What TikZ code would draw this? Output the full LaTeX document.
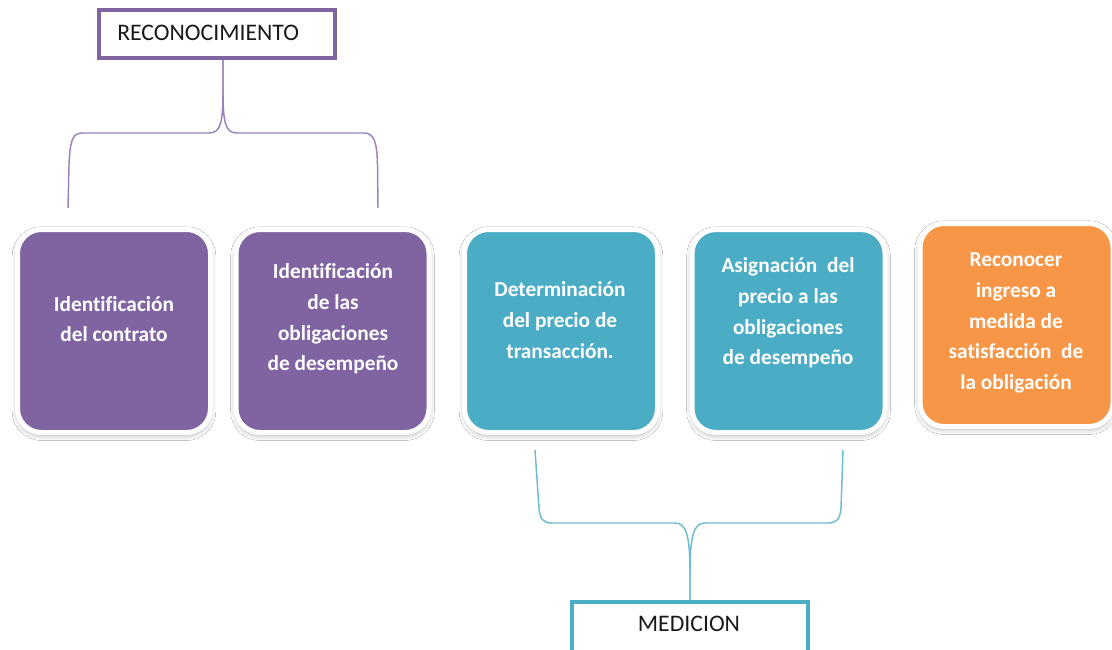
\documentclass[tikz,border=0pt]{standalone}
\usepackage{fontspec}
\setmainfont[Ligatures=NoCommon]{Carlito}
\usetikzlibrary{shadows.blur}
\definecolor{cpurple}{HTML}{8064A2}
\definecolor{cteal}{HTML}{4BACC6}
\definecolor{corange}{HTML}{F79646}
\definecolor{cpline}{HTML}{9A82BC}
\definecolor{ctline}{HTML}{6CBCD2}
\tikzset{
  card/.style={draw=white, line width=3.75pt, rounded corners=18pt,
    minimum width=144.75pt, minimum height=152.25pt, inner sep=0pt,
    blur shadow={shadow xshift=0pt, shadow yshift=-2pt, shadow blur radius=4pt, shadow opacity=35}},
  cardtext/.style={text=white, align=center, font=\fontsize{16pt}{23pt}\selectfont\bfseries},
  headbox/.style={line width=3pt, inner sep=0pt, minimum width=177pt, minimum height=36pt, fill=white},
  headtext/.style={text=black!90, font=\fontsize{17.8pt}{20pt}\selectfont, inner sep=0pt},
  pbrace/.style={draw=cpline, line width=1.1pt},
  tbrace/.style={draw=ctline, line width=1.1pt}
}
\begin{document}
\begin{tikzpicture}[x=0.75pt, y=-0.75pt]
\useasboundingbox[fill=white] (0,0) rectangle (1112,649);
% cards
\node[card, fill=cpurple] (c1) at (114,331) {};
\node[card, fill=cpurple] (c2) at (332.5,331) {};
\node[card, fill=cteal] (c3) at (561,331) {};
\node[card, fill=cteal] (c4) at (788.5,331) {};
\node[card, fill=corange] (c5) at (1016.5,325) {};
\node[cardtext] (t1) at (114,319) {Identificación\\del contrato};
\node[cardtext] (t2) at (333,319) {Identificación\\de las\\obligaciones\\de desempeño};
\node[cardtext] (t3) at (560,320) {Determinación\\del precio de\\transacción.};
\node[cardtext] (t4) at (788,313) {Asignación\ \ del\\precio a las\\obligaciones\\de desempeño};
\node[cardtext] (t5) at (1016,323) {Reconocer\\ingreso a\\medida de\\satisfacción\ \ de\\la obligación};
% header boxes
\node[headbox, draw=cpurple] (rec) at (217,34) {};
\node[headtext, anchor=west] (rect) at (117,33) {RECONOCIMIENTO};
\node[headbox, draw=cteal, minimum height=60pt] (med) at (690,642) {};
\node[headtext] (medt) at (689,624) {MEDICION};
% purple brace
\coordinate (ps) at (223,92);
\coordinate (pl) at (68,208);
\coordinate (pr) at (378,208);
\draw[pbrace] (rec.south -| ps) -- (ps) .. controls (223,124) and (220,133) .. (209,133) -- (82,133)
  .. controls (72,133) and (70,142) .. (69,165) -- (pl);
\draw[pbrace] (rec.south -| ps) -- (ps) .. controls (223,124) and (226,133) .. (237,133) -- (364,133)
  .. controls (374,133) and (377,142) .. (377.5,165) -- (pr);
% teal brace
\coordinate (tl) at (535,450);
\coordinate (tr) at (843,450);
\draw[tbrace] (tl) -- (539,508) .. controls (540,519) and (543,523) .. (552,523) -- (675,523)
  .. controls (686,523) and (690,535) .. (690,572) -- (med.north);
\draw[tbrace] (tr) -- (841,508) .. controls (840,519) and (837,523) .. (828,523) -- (705,523)
  .. controls (694,523) and (690,535) .. (690,572) -- (med.north);
\end{tikzpicture}
\end{document}
